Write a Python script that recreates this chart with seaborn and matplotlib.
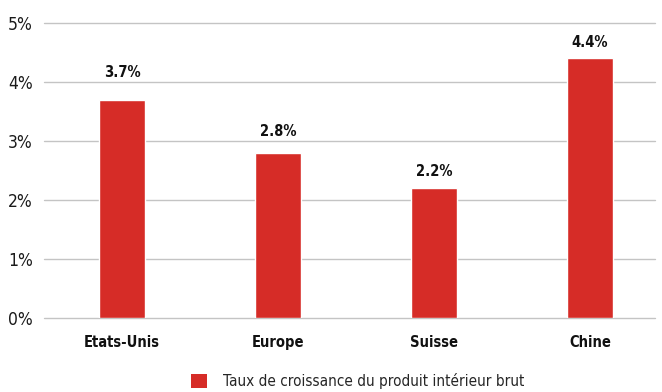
import matplotlib
matplotlib.use("Agg")
import matplotlib.pyplot as plt
import seaborn as sns
import pandas as pd
from matplotlib.patches import Patch

categories = ["Etats-Unis", "Europe", "Suisse", "Chine"]
values = [3.7, 2.8, 2.2, 4.4]
series_name = "Taux de croissance du produit intérieur brut"
yticks = [0, 1, 2, 3, 4, 5]

df = pd.DataFrame({"pays": categories, "taux": values})

sns.set_theme(style="white")
plt.rcParams["font.family"] = ["DejaVu Sans"]
plt.rcParams["font.stretch"] = "condensed"

color = "#d62c27"
fig = plt.figure(figsize=(6.62, 3.92), dpi=100)
ax = fig.add_axes([44/662, 1-318/392, (655-44)/662, (318-23)/392])

sns.barplot(data=df, x="pays", y="taux", color=color, width=0.29, ax=ax,
            saturation=1, zorder=3)

ax.set_ylim(0, 5)
ax.set_xlim(-0.5, 3.417)
ax.set_yticks(yticks)
ax.set_yticklabels([f"{t}%" for t in yticks], fontsize=12.5, color="#1a1a1a")
ax.yaxis.grid(True, color="#c4c4c4", linewidth=1, zorder=0)
for gl in ax.get_ygridlines():
    gl.set_clip_on(False)
ax.set_axisbelow(True)
ax.tick_params(axis="both", length=0)
ax.tick_params(axis="y", pad=8)
ax.tick_params(axis="x", labelsize=10.5, labelcolor="#111111", pad=12)
for lbl in ax.get_xticklabels():
    lbl.set_fontweight("bold")
ax.set_xlabel("")
ax.set_ylabel("")
for s in ax.spines.values():
    s.set_visible(False)

# value labels: keep a fixed gap above the bar, but move above a gridline
# if the label would cross it
gap, h, margin = 0.2, 0.17, 0.09
for i, v in enumerate(values):
    base = v + gap
    for t in yticks:
        if base - 0.02 < t < base + h + 0.05:
            base = t + margin
    ax.text(i, base, f"{v}%", ha="center", va="baseline", fontsize=10.5,
            fontweight="bold", color="#111111")

fig.legend(handles=[Patch(facecolor=color, edgecolor="none")], labels=[series_name],
           loc="center", bbox_to_anchor=(358/662, 1-381/392), frameon=False,
           fontsize=11, handlelength=1.0, handleheight=1.0, handletextpad=1.1)

fig.savefig("out.png", dpi=100)
